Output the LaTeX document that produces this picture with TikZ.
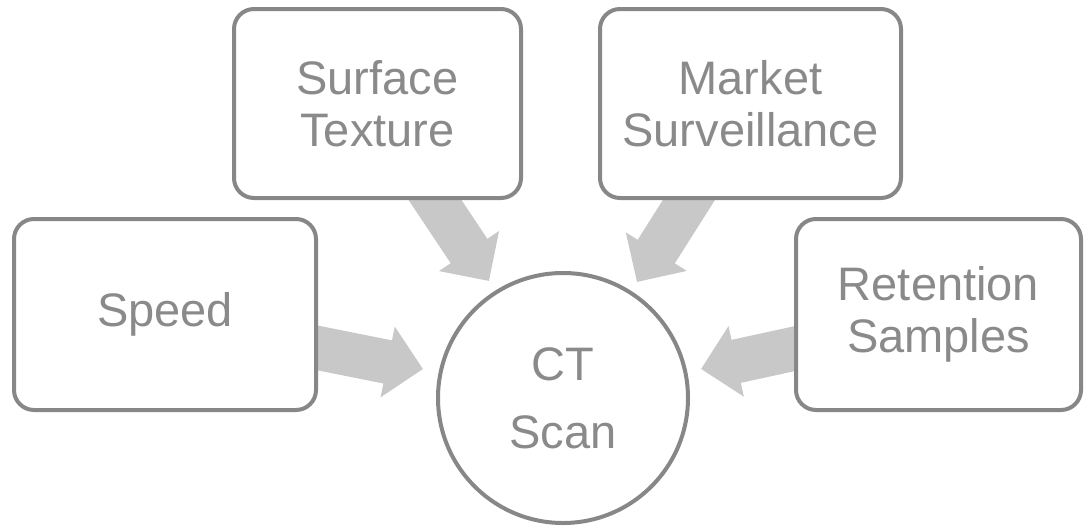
\documentclass[tikz,border=0pt]{standalone}
\usepackage{fontspec}
\setmainfont{Liberation Sans}
\usetikzlibrary{arrows.meta}
\definecolor{boxline}{HTML}{878787}
\definecolor{txt}{HTML}{8A8A8A}
\definecolor{arrowfill}{HTML}{C8C8C8}
\tikzset{
  topic/.style={draw=boxline, line width=4pt, fill=white, rounded corners=20pt,
    align=center, text=txt, inner sep=0pt,
    font=\fontsize{47}{52}\selectfont},
  hub/.style={draw=boxline, line width=4pt, fill=white, circle, minimum size=250pt,
    align=center, text=txt, inner sep=0pt,
    font=\fontsize{47}{68}\selectfont},
  blockarrow/.style={draw=arrowfill, line width=44pt,
    -{Triangle[length=36pt,width=70pt]}}
}
\begin{document}
\begin{tikzpicture}[x=1pt,y=-1pt]
\useasboundingbox (0,0) rectangle (1085,528);
% arrow coordinates
\coordinate (sA) at (300,344.4);  \coordinate (tA) at (423,369);
\coordinate (sB) at (425,185);    \coordinate (tB) at (489,281);
\coordinate (sC) at (698.4,185);  \coordinate (tC) at (637,282);
\coordinate (sD) at (810,345.3);  \coordinate (tD) at (701,369);
\draw[blockarrow] (sA) -- (tA);
\draw[blockarrow] (sB) -- (tB);
\draw[blockarrow] (sC) -- (tC);
\draw[blockarrow] (sD) -- (tD);
% nodes
\node[topic, minimum width=302pt, minimum height=191pt] (speed) at (165,314.5) {Speed};
\node[topic, minimum width=287pt, minimum height=189pt] (surface) at (377.5,103.5) {Surface\\Texture};
\node[topic, minimum width=301pt, minimum height=189pt] (market) at (750.5,103.5) {Market\\Surveillance};
\node[topic, minimum width=285pt, minimum height=191pt] (retention) at (938.5,314.5) {Retention\\Samples};
\node[hub] (ct) at (563,398) {CT\\Scan};
\end{tikzpicture}
\end{document}
